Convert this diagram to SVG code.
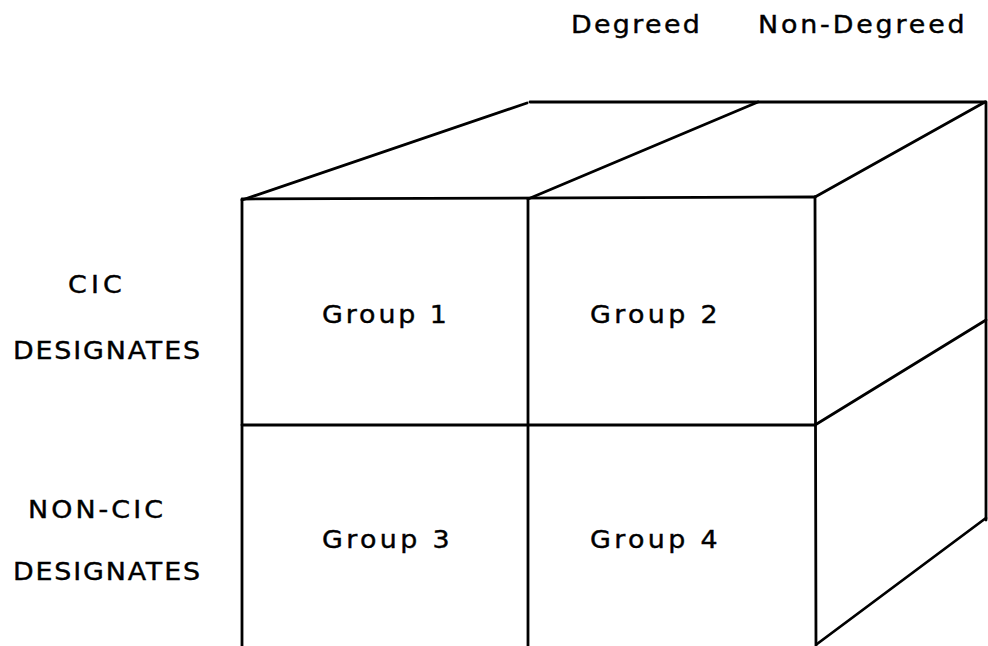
<svg xmlns="http://www.w3.org/2000/svg" width="988" height="646" viewBox="0 0 988 646">
<style>
.ln{stroke:#000;stroke-width:2.8;fill:none;stroke-linecap:round;stroke-linejoin:round}
.t{font-family:"DejaVu Sans","Liberation Sans",sans-serif;font-size:24px;fill:#000;stroke:#000;stroke-width:0.4}
</style>
<rect width="988" height="646" fill="#fff"/>
<g id="connectors">
<path class="ln" d="M242,200 L527,103"/>
<path class="ln" d="M530,102 L985,102"/>
<path class="ln" d="M528,199 L758,102"/>
<path class="ln" d="M815,197 L985,102"/>
<path class="ln" d="M986,102 L986,520"/>
<path class="ln" d="M242,199 L815,197"/>
<path class="ln" d="M242,200 L242,646"/>
<path class="ln" d="M528,199 L528,646"/>
<path class="ln" d="M815,197 L816,646"/>
<path class="ln" d="M242,425 L815,425"/>
<path class="ln" d="M815,425 L986,320"/>
<path class="ln" d="M817,644 L986,518"/>
</g>
<g id="header-degreed" transform="translate(571,33) scale(1.12,1)"><text class="t" x="0" y="0" textLength="115" lengthAdjust="spacing">Degreed</text></g>
<g id="header-nondegreed" transform="translate(758,33) scale(1.12,1)"><text class="t" x="0" y="0" textLength="184.5" lengthAdjust="spacing">Non-Degreed</text></g>
<g id="label-cic">
<g transform="translate(68,293) scale(1.12,1)"><text class="t" x="0" y="0" textLength="48" lengthAdjust="spacing">CIC</text></g>
<g transform="translate(13,359) scale(1.12,1)"><text class="t" x="0" y="0" textLength="167" lengthAdjust="spacing">DESIGNATES</text></g>
</g>
<g id="label-noncic">
<g transform="translate(28,518) scale(1.12,1)"><text class="t" x="0" y="0" textLength="120.5" lengthAdjust="spacing">NON-CIC</text></g>
<g transform="translate(13,580) scale(1.12,1)"><text class="t" x="0" y="0" textLength="167" lengthAdjust="spacing">DESIGNATES</text></g>
</g>
<g id="group1" transform="translate(322,323) scale(1.12,1)"><text class="t" x="0" y="0" textLength="111.5" lengthAdjust="spacing">Group 1</text></g>
<g id="group2" transform="translate(590,323) scale(1.12,1)"><text class="t" x="0" y="0" textLength="114" lengthAdjust="spacing">Group 2</text></g>
<g id="group3" transform="translate(322,548) scale(1.12,1)"><text class="t" x="0" y="0" textLength="114" lengthAdjust="spacing">Group 3</text></g>
<g id="group4" transform="translate(590,548) scale(1.12,1)"><text class="t" x="0" y="0" textLength="114" lengthAdjust="spacing">Group 4</text></g>
</svg>
